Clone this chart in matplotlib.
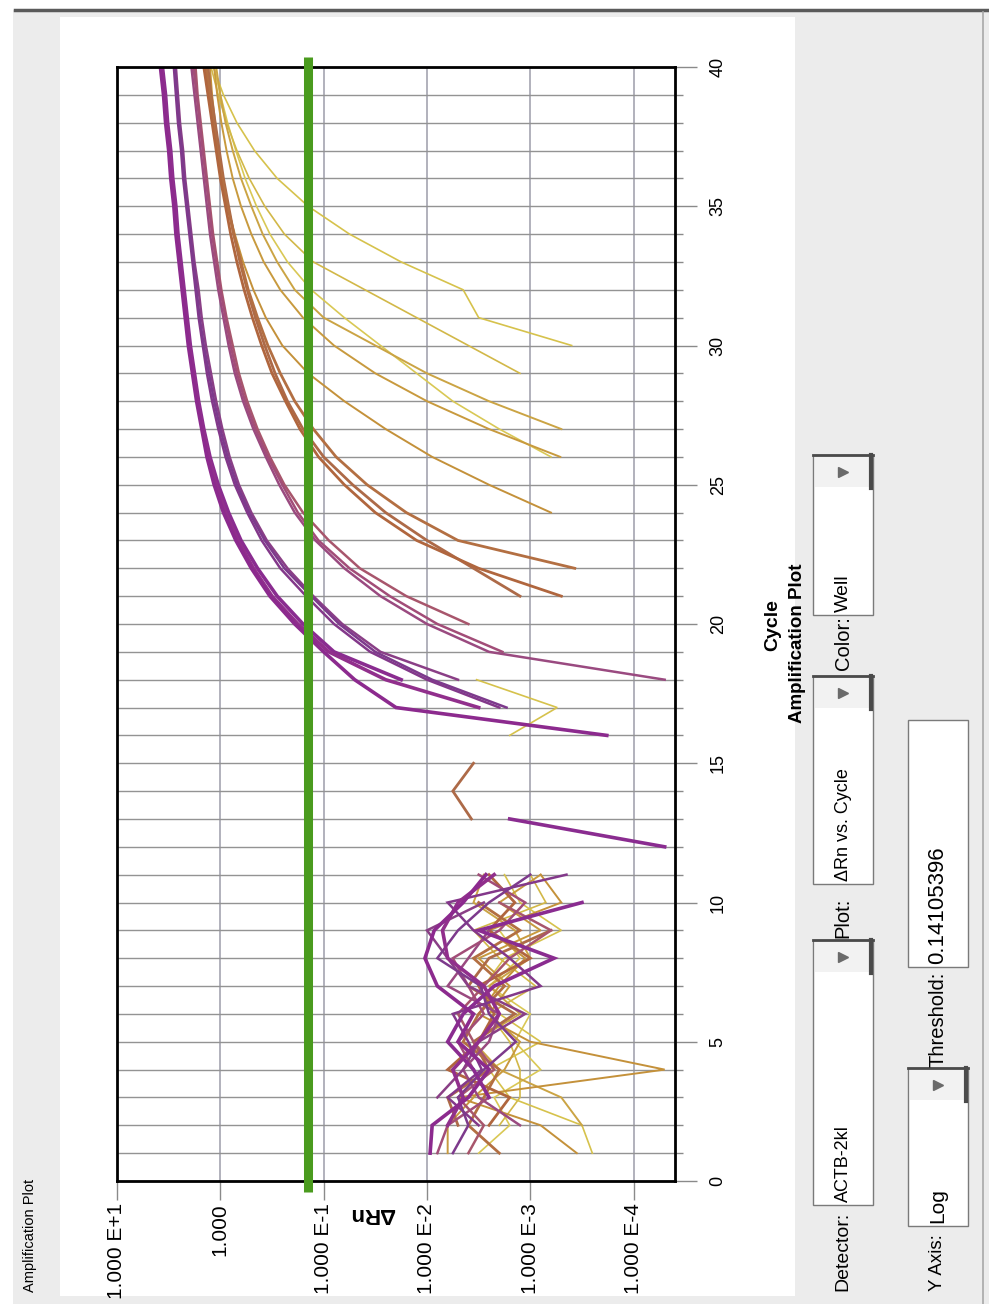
import numpy as np
import matplotlib
matplotlib.use("Agg")
import matplotlib.pyplot as plt
from matplotlib.patches import Rectangle
from matplotlib.ticker import FixedLocator, MultipleLocator, NullLocator

plt.rcParams['font.family'] = ['Liberation Sans', 'DejaVu Sans']

# ---- data (log10 of delta Rn per cycle 1..40, None = not shown) ----
N = None
cycles = list(range(1, 41))
threshold = 0.14105396
detector = "ACTB-2kl"
dRn_ticks = [10, 1, 0.1, 0.01, 0.001, 0.0001]
dRn_labels = ["1.000 E+1", "1.000", "1.000 E-1", "1.000 E-2", "1.000 E-3", "1.000 E-4"]
cycle_ticks = [0, 5, 10, 15, 20, 25, 30, 35, 40]

w01_log = [-2.03, -2.05, -2.4, -2.6, -2.3, -2.45, -2.1, -1.98, -2.07, -2.35, -2.57,
           N, N, N, N,
           -3.74, -1.7, -1.3, -1.0, -0.72, -0.48, -0.3, -0.15, -0.03, 0.06, 0.13, 0.18, 0.23,
           0.27, 0.31, 0.34, 0.37, 0.40, 0.43, 0.45, 0.48, 0.50, 0.53, 0.55, 0.58]
w02_log = [N, -2.2, -2.35, -2.25, -2.5, -2.7, -2.55, -2.2, -2.15, -2.3, -2.65,
           N, N, N, N, N,
           -2.5, -1.6, -1.05, -0.75, -0.5, -0.32, -0.17, -0.05, 0.04, 0.11, 0.17, 0.22,
           0.26, 0.30, 0.33, 0.36, 0.39, 0.42, 0.44, 0.47, 0.49, 0.52, 0.54, 0.57]
w03_log = [N, N, -2.6, -2.45, -2.2, -2.35, -2.65, -3.23, -2.5, -3.5, N,
           -4.3, -2.8, N, N, N, N,
           -1.75, -1.1, -0.8, -0.55, -0.36, -0.2, -0.08, 0.02, 0.1, 0.16, 0.21, 0.25,
           0.29, 0.32, 0.35, 0.38, 0.41, 0.43, 0.46, 0.48, 0.51, 0.53, 0.56]
w04_log = [-2.25, -2.4, -2.3, -2.55, -2.86, -2.6, -2.52, -2.1, -2.3, -2.6, -3.0,
           N, N, N, N, N,
           -2.77, -2.05, -1.5, -1.15, -0.88, -0.62, -0.43, -0.28, -0.16, -0.07, 0.0, 0.06,
           0.11, 0.16, 0.2, 0.23, 0.26, 0.29, 0.32, 0.35, 0.37, 0.4, 0.42, 0.44]
w05_log = [N, -2.5, -2.2, -2.53, -2.4, -2.25, -3.1, -2.8, -2.45, -2.2, -3.35,
           N, N, N, N, N,
           -2.7, -2.0, -1.45, -1.1, -0.83, -0.58, -0.4, -0.26, -0.14, -0.05, 0.02, 0.08,
           0.13, 0.17, 0.21, 0.24, 0.27, 0.3, 0.33, 0.36, 0.38, 0.41, 0.43, 0.45]
w06_log = [N, N, -2.1, -2.35, -2.5, -2.95, -2.4, -2.2, -2.0, -2.55, N,
           N, N, N, N, N, N,
           -2.3, -1.55, -1.18, -0.9, -0.65, -0.45, -0.3, -0.18, -0.09, -0.02, 0.04,
           0.09, 0.14, 0.18, 0.21, 0.25, 0.28, 0.31, 0.34, 0.36, 0.39, 0.41, 0.43]
w07_log = [-2.1, -2.2, -2.6, -2.45, -2.3, -2.55, -2.4, -2.25, -2.7, -2.95, -2.5,
           N, N, N, N, N, N, N,
           -2.73, -2.1, -1.64, -1.25, -0.95, -0.75, -0.6, -0.46, -0.34, -0.24, -0.16,
           -0.1, -0.05, 0.0, 0.04, 0.08, 0.11, 0.14, 0.17, 0.2, 0.23, 0.26]
w08_log = [N, -2.9, -2.5, -2.35, -2.6, -2.7, -2.2, -2.4, -2.6, N, N,
           N, N, N, N, N, N,
           -4.3, -2.6, -2.0, -1.55, -1.2, -0.92, -0.72, -0.57, -0.44, -0.32, -0.22,
           -0.14, -0.08, -0.03, 0.02, 0.06, 0.1, 0.13, 0.16, 0.19, 0.22, 0.25, 0.28]
w09_log = [-2.4, -2.55, -2.3, -2.65, -2.45, -2.3, -2.55, -2.8, -3.2, -2.7, N,
           N, N, N, N, N, N, N, N,
           -2.4, -1.8, -1.35, -1.05, -0.8, -0.62, -0.48, -0.36, -0.26, -0.18, -0.12,
           -0.06, -0.01, 0.03, 0.07, 0.1, 0.13, 0.16, 0.19, 0.22, 0.24]
w10_log = [N, -2.6, -2.8, -2.2, -2.5, -2.65, -2.5, -3.0, -2.6, -2.85, -2.6,
           N, N, N, N, N, N, N, N, N,
           -3.3, -2.5, -1.9, -1.5, -1.2, -0.95, -0.77, -0.63, -0.5, -0.4, -0.31,
           -0.23, -0.16, -0.1, -0.05, 0.0, 0.04, 0.08, 0.12, 0.16]
w11_log = [-2.7, -2.4, -2.55, -2.7, -2.35, -2.5, -2.75, -2.45, -2.9, -2.5, N,
           N, N, N, N, N, N, N, N, N, N,
           -3.43, -2.3, -1.8, -1.42, -1.12, -0.9, -0.72, -0.58, -0.46, -0.36,
           -0.27, -0.2, -0.13, -0.07, -0.02, 0.03, 0.07, 0.1, 0.14]
w12_log = [N, -2.3, -2.2, -2.6, -2.45, -2.85, -2.4, -2.6, -3.2, N, N,
           N, -2.43, -2.25, -2.45, N, N, N, N, N,
           -2.9, -2.45, -2.0, -1.6, -1.28, -1.0, -0.8, -0.65, -0.53, -0.43, -0.34,
           -0.26, -0.19, -0.13, -0.08, -0.03, 0.01, 0.05, 0.09, 0.12]
w13_log = [-3.45, -3.1, -2.3, -4.3, -3.0, -2.5, -2.7, -2.95, -2.6, -3.3, -3.1,
           N, N, N, N, N, N, N, N, N, N, N, N,
           -3.2, -2.6, -2.05, -1.6, -1.2, -0.85, -0.6, -0.44, -0.32, -0.22, -0.14,
           -0.07, -0.02, 0.02, 0.05, 0.08, 0.1]
w14_log = [-2.2, -2.2, -2.45, -2.75, -2.9, -2.6, -2.8, -2.5, -3.1, -2.7, -3.1,
           N, N, N, N, N, N, N, N, N, N, N, N, N, N,
           -3.29, -2.6, -2.0, -1.5, -1.1, -0.8, -0.58, -0.42, -0.3, -0.2, -0.12,
           -0.06, -0.01, 0.03, 0.06]
w15_log = [N, -3.5, -3.3, -2.7, -2.45, -2.9, -2.6, -3.0, -2.85, -2.45, -2.55,
           N, N, N, N, N, N, N, N, N, N, N, N, N, N, N,
           -3.3, -2.6, -2.0, -1.5, -1.0, -0.72, -0.55, -0.41, -0.3, -0.2, -0.12,
           -0.05, 0.0, 0.04]
w16_log = [-3.6, -3.5, -2.8, -2.6, -3.1, -2.7, -2.55, -2.75, -3.3, -2.9, -2.75,
           N, N, N, N,
           -2.8, -3.26, -2.48,
           N, N, N, N, N, N, N, N, N, N, N,
           -3.4, -2.5, -2.35, -1.75, -1.25, -0.85, -0.55, -0.33, -0.16, -0.03, 0.07]
w17_log = [N, -2.7, -2.9, -2.9, -2.8, -2.6, -3.05, -2.7, -2.45, -3.15, -3.0,
           N, N, N, N, N, N, N, N, N, N, N, N, N, N, N, N, N,
           -2.9, -2.4, -1.9, -1.4, -0.9, -0.62, -0.43, -0.28, -0.16, -0.06, 0.02, 0.09]
w18_log = [-2.5, -2.8, -2.65, -3.1, -2.85, -3.0, -2.6, -2.9, -2.7, N, -3.1,
           N, N, N, N, N, N, N, N, N, N, N, N, N, N,
           -3.2, -2.7, -2.25, -1.9, -1.55, -1.2, -0.88, -0.65, -0.48, -0.35, -0.24,
           -0.15, -0.07, 0.0, 0.06]

wells = [w01_log, w02_log, w03_log, w04_log, w05_log, w06_log, w07_log, w08_log, w09_log,
         w10_log, w11_log, w12_log, w13_log, w14_log, w15_log, w16_log, w17_log, w18_log]
well_colors = ['#8c2a8e', '#912f8c', '#8a2c90',
               '#7d3a8c', '#83388a', '#8a3f86',
               '#a24d78', '#9a4a80', '#a8566c',
               '#b0663e', '#b36f42', '#ad6a48',
               '#c4913a', '#c89a3e', '#cba444',
               '#d6c24c', '#d2b848', '#d9c855']
well_widths = [2.6, 2.6, 2.6, 1.8, 1.8, 1.8, 1.8, 1.8, 1.8,
               2.0, 2.0, 2.0, 1.4, 1.4, 1.4, 1.2, 1.2, 1.2]

# ---- figure ----
W, H = 989, 1304
fig = plt.figure(figsize=(W / 100, H / 100), dpi=100)
fig.patch.set_facecolor('white')

ui = fig.add_axes([0, 0, 1, 1])
ui.set_xlim(0, W)
ui.set_ylim(H, 0)
ui.axis('off')

ui.add_patch(Rectangle((13, 10), W - 13, H - 10, facecolor='#ececec', edgecolor='none'))
ui.add_patch(Rectangle((60, 17), 735, 1279, facecolor='white', edgecolor='none'))
ui.plot([15, W], [10, 10], color='#5a5a5a', lw=2.5)
ui.plot([983, 983], [12, H], color='#a8a8a8', lw=1.2)

ui.text(30, 1292, "Amplification Plot", rotation=90, ha='center', va='bottom', fontsize=10.5)


def dropdown(x0, x1, y0, y1, label, value, vsize, arrow=True):
    ui.add_patch(Rectangle((x0, y0), x1 - x0, y1 - y0, facecolor='white',
                           edgecolor='#7a7a7a', lw=1.0))
    xc = (x0 + x1) / 2
    if arrow:
        ui.add_patch(Rectangle((x0 + 2, y0 + 2), x1 - x0 - 4, 30, facecolor='#f2f2f2',
                               edgecolor='none'))
        ui.plot([x0, x1], [y0, y0], color='#4a4a4a', lw=2.0)
        ui.plot([x1 - 2, x1 - 2], [y0, y0 + 33], color='#4a4a4a', lw=3.0)
        ui.plot([xc], [y0 + 17], marker='>', ms=7, color='#6a6a6a')
    ui.text(xc, y1 - 3, value, rotation=90, ha='center', va='bottom', fontsize=vsize)
    ui.text(xc, label[1], label[0], rotation=90, ha='center', va='bottom', fontsize=label[2])


dropdown(813, 873, 940, 1205, ("Detector:", 1291, 14), detector, 13)
dropdown(813, 873, 676, 884, ("Plot:", 938, 14.5), "\u0394Rn vs. Cycle", 13)
dropdown(813, 873, 455, 615, ("Color:", 670, 14.5), "Well", 14)
dropdown(908, 968, 1068, 1226, ("Y Axis:", 1291, 13.5), "Log", 15)
dropdown(908, 968, 720, 967, ("Threshold:", 1067, 14.5), "%.8f" % threshold, 16, arrow=False)

ui.text(797, 643, "Amplification Plot", rotation=90, ha='center', va='center',
        fontsize=13.5, fontweight='bold')
ui.text(773, 625, "Cycle", rotation=90, ha='center', va='center',
        fontsize=14, fontweight='bold')
ui.text(372, 1214, "\u0394Rn", rotation=180, ha='center', va='center',
        fontsize=16, fontweight='bold')

# ---- the amplification plot, drawn with delta Rn across and cycle up ----
ax = fig.add_axes([117 / W, 1 - 1181 / H, (675 - 117) / W, (1181 - 67) / H])
ax.set_facecolor('white')
ax.set_xscale('log')
ax.set_xlim(10, 10 ** -4.4)
ax.set_ylim(0, 40)
ax.set_axisbelow(True)

ax.xaxis.set_major_locator(FixedLocator(dRn_ticks))
ax.set_xticklabels(dRn_labels)
ax.xaxis.set_minor_locator(NullLocator())
ax.yaxis.set_major_locator(FixedLocator(cycle_ticks))
ax.yaxis.set_minor_locator(MultipleLocator(1))
ax.yaxis.tick_right()

ax.tick_params(axis='x', which='major', length=14, width=1, color='#8a8a8a',
               labelsize=15, labelrotation=90, pad=2)
ax.tick_params(axis='y', which='major', length=16, width=1, color='#8a8a8a',
               labelsize=13, labelrotation=90, pad=9)
ax.tick_params(axis='y', which='minor', length=6, width=1, color='#8a8a8a')
for lab in ax.get_yticklabels():
    lab.set_va('center')

ax.grid(True, axis='x', which='major', color='#a4a4b0', lw=1.2)
ax.grid(True, axis='y', which='both', color='#939393', lw=1.0)

for sp in ax.spines.values():
    sp.set_color('black')
    sp.set_linewidth(2.0)

cyc = np.array(cycles)
for i in range(len(wells) - 1, -1, -1):
    vals = np.power(10.0, np.array(wells[i], dtype=float))
    ax.plot(vals, cyc, color=well_colors[i], lw=well_widths[i], solid_joinstyle='miter')

ax.plot([threshold, threshold], [-0.4, 40.35], color='#4a9b1e', lw=6.5, clip_on=False,
        solid_capstyle='butt', zorder=5)

fig.savefig("out.png", dpi=100)
